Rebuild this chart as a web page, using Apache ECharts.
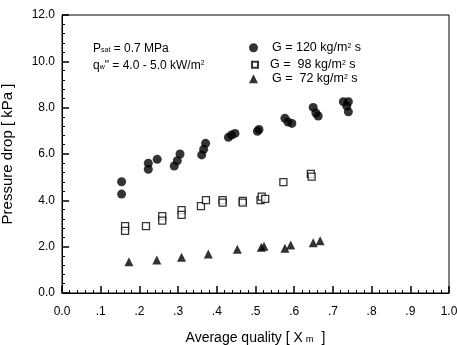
<!DOCTYPE html>
<style>
body {margin: 0; background: #fff;}
#div_echart {height: 345px; width: 457px;}
</style>
<script src='https://cdn.jsdelivr.net/npm/echarts@6/dist/echarts.min.js'></script>
<div id='div_echart'></div>
<script>
// G = 120 kg/m2 s
let x120 = [0.154, 0.154, 0.223, 0.223, 0.246, 0.290, 0.298, 0.305, 0.361, 0.366, 0.371, 0.430, 0.438, 0.447, 0.505, 0.509, 0.576, 0.584, 0.594, 0.649, 0.656, 0.662, 0.727, 0.736, 0.740, 0.740]
let y120 = [4.80, 4.27, 5.60, 5.34, 5.77, 5.48, 5.71, 6.00, 5.96, 6.20, 6.46, 6.72, 6.82, 6.89, 6.98, 7.06, 7.54, 7.38, 7.32, 8.01, 7.77, 7.64, 8.26, 8.07, 8.26, 7.82]
// G = 98 kg/m2 s
let x98 = [0.163, 0.163, 0.217, 0.259, 0.259, 0.309, 0.309, 0.359, 0.372, 0.415, 0.415, 0.467, 0.467, 0.513, 0.516, 0.525, 0.572, 0.643, 0.645]
let y98 = [2.89, 2.68, 2.89, 3.32, 3.12, 3.58, 3.37, 3.75, 4.01, 4.01, 3.90, 3.98, 3.90, 4.01, 4.16, 4.06, 4.79, 5.14, 5.02]
// G = 72 kg/m2 s
let x72 = [0.173, 0.245, 0.309, 0.378, 0.453, 0.515, 0.522, 0.576, 0.591, 0.649, 0.667]
let y72 = [1.35, 1.42, 1.54, 1.68, 1.89, 1.98, 2.02, 1.93, 2.07, 2.17, 2.26]

let xTickLabels = ['0.0', '.1', '.2', '.3', '.4', '.5', '.6', '.7', '.8', '.9', '1.0']
let seriesNames = ['G = 120', 'G =  98', 'G =  72']

let font = 'Liberation Sans, Arial, sans-serif'
let pairs = (xs, ys) => xs.map((x, i) => [x, ys[i]])

// one legend per row so the rows sit where the original has them
let legends = seriesNames.map((name, i) => {
	let small = i == 1 // the hollow square is drawn smaller in the original
	return {
		orient: 'vertical', left: small ? 251 : 249, top: 37 + i * 15.5 + (small ? 1.5 : 0),
		itemWidth: small ? 6 : 9, itemHeight: small ? 6 : 9, padding: 0,
		data: [{name}],
		formatter: n => '{a|' + n + ' kg/m}{p|2}{a| s}',
		textStyle: {
			fontFamily: font, color: '#000', padding: [0, 0, 0, small ? 7 : 9],
			rich: {
				a: {fontFamily: font, fontSize: 12.5, color: '#000', lineHeight: 18},
				p: {fontFamily: font, fontSize: 7, color: '#000', lineHeight: 18, verticalAlign: 'top', padding: [1, 0, 0, 0]}
			}
		}
	}
})

let echart = echarts.init(document.getElementById('div_echart'))
echart.setOption({
	animation: false,
	grid: {left: 62, top: 15, right: 8, bottom: 52, outerBoundsMode: 'none', show: true, borderColor: '#000', borderWidth: 1},
	legend: legends,
	xAxis: {
		type: 'value', min: 0, max: 1, interval: 0.1,
		name: '{a|Average quality [ X}{s|m}{a|  ]}', nameLocation: 'middle', nameGap: 29,
		nameTextStyle: {
			rich: {
				a: {fontFamily: font, fontSize: 14, color: '#000', lineHeight: 18},
				s: {fontFamily: font, fontSize: 9.5, color: '#000', lineHeight: 18, verticalAlign: 'bottom', padding: [0, 0, 0, 3]}
			}
		},
		axisLine: {lineStyle: {color: '#000', width: 1}},
		axisTick: {inside: true, length: 7, lineStyle: {color: '#000', width: 1.5}},
		minorTick: {show: true, splitNumber: 5, length: 3, lineStyle: {color: '#000'}},
		splitLine: {show: false},
		axisLabel: {
			fontFamily: font, fontSize: 12, color: '#000', margin: 8,
			formatter: v => xTickLabels[Math.round(v * 10)]
		}
	},
	yAxis: {
		type: 'value', min: 0, max: 12, interval: 2,
		name: 'Pressure drop [ kPa ]', nameLocation: 'middle', nameGap: 38,
		nameTextStyle: {fontFamily: font, fontSize: 15, color: '#000'},
		axisLine: {lineStyle: {color: '#000', width: 1}},
		axisTick: {inside: true, length: 7, lineStyle: {color: '#000', width: 1.5}},
		minorTick: {show: true, splitNumber: 5, length: 3, lineStyle: {color: '#000'}},
		splitLine: {show: false},
		axisLabel: {fontFamily: font, fontSize: 12, color: '#000', margin: 7, formatter: v => v.toFixed(1)}
	},
	graphic: [
		{
			type: 'text', left: 93, top: 38,
			style: {
				text: '{a|P}{s|sat}{a| = 0.7 MPa}',
				rich: {
					a: {fontFamily: font, fontSize: 12, fill: '#000', lineHeight: 16},
					s: {fontFamily: font, fontSize: 7, fill: '#000', lineHeight: 16, verticalAlign: 'bottom'}
				}
			}
		},
		{
			type: 'text', left: 93, top: 55,
			style: {
				text: '{a|q}{s|w}{a|" = 4.0 - 5.0 kW/m}{p|2}',
				rich: {
					a: {fontFamily: font, fontSize: 12, fill: '#000', lineHeight: 16},
					s: {fontFamily: font, fontSize: 7, fill: '#000', lineHeight: 16, verticalAlign: 'bottom'},
					p: {fontFamily: font, fontSize: 7, fill: '#000', lineHeight: 16, verticalAlign: 'top'}
				}
			}
		}
	],
	series: [
		{name: seriesNames[0], type: 'scatter', symbol: 'circle', symbolSize: 9, itemStyle: {color: '#000'}, data: pairs(x120, y120)},
		{name: seriesNames[1], type: 'scatter', symbol: 'rect', symbolSize: 7, itemStyle: {color: '#fff', borderColor: '#000', borderWidth: 1.3}, data: pairs(x98, y98)},
		{name: seriesNames[2], type: 'scatter', symbol: 'triangle', symbolSize: 9, itemStyle: {color: '#000'}, data: pairs(x72, y72)}
	]
})
</script>
